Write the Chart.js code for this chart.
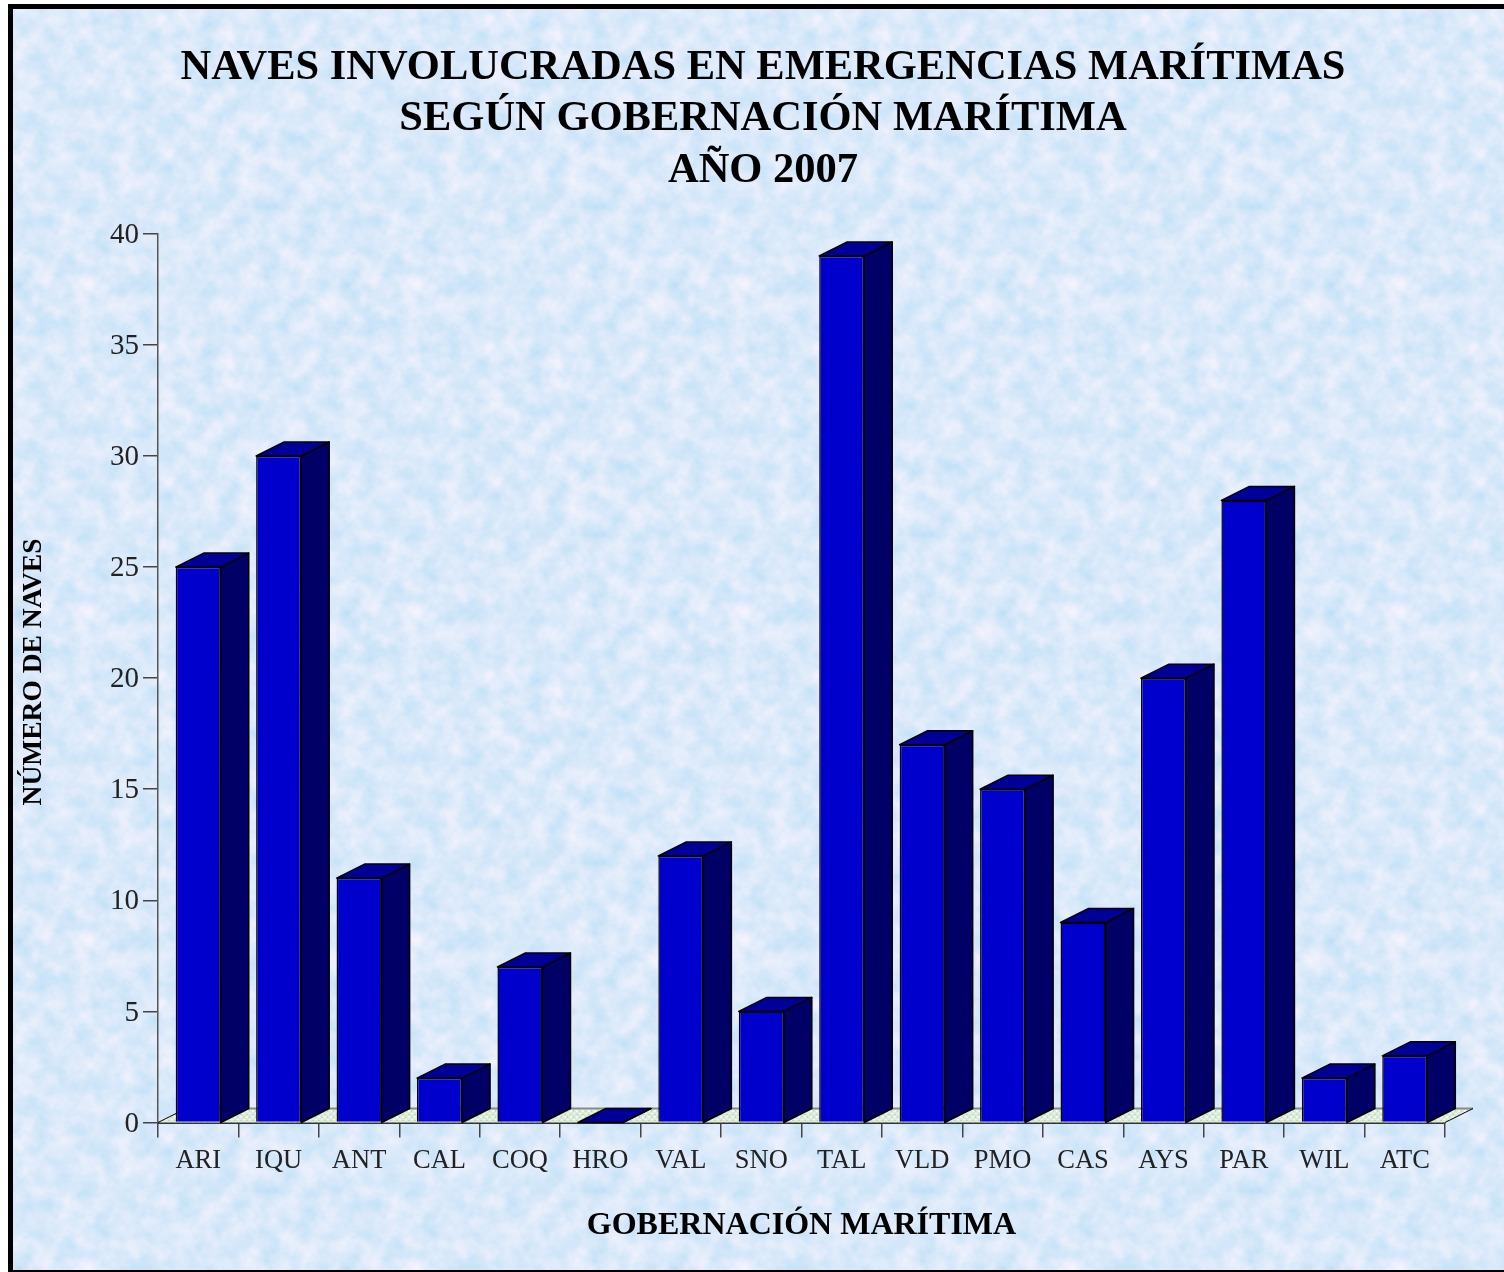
<!DOCTYPE html>
<html lang="es">
<head>
<meta charset="utf-8">
<title>Naves involucradas en emergencias marítimas</title>
<script src="https://cdn.jsdelivr.net/npm/chart.js@4"></script>
<style>
html, body { margin: 0; padding: 0; width: 1504px; height: 1272px; overflow: hidden; background: #fff; }
#marco {
    position: absolute; left: 8px; top: 4px; width: 1600px; height: 1261px;
    border: 5px solid #000;
    background-image: url("data:image/svg+xml;utf8,<svg xmlns='http://www.w3.org/2000/svg' width='328' height='328'><filter id='t' x='0' y='0' width='100%' height='100%' color-interpolation-filters='sRGB'><feTurbulence type='fractalNoise' baseFrequency='0.05' numOctaves='5' seed='7' stitchTiles='stitch'/><feColorMatrix values='0.26 0 0 0 0.725  0.09 0 0 0 0.87  0.03 0 0 0 0.965  0 0 0 0 1'/></filter><rect width='328' height='328' filter='url(%23t)'/></svg>");
}
#grafico1 { position: absolute; left: 0; top: 0; }
</style>
</head>
<body>
<div id="marco"></div>
<canvas id="grafico1" width="1504" height="1272"></canvas>
<script>
const categorias = ['ARI', 'IQU', 'ANT', 'CAL', 'COQ', 'HRO', 'VAL', 'SNO', 'TAL', 'VLD', 'PMO', 'CAS', 'AYS', 'PAR', 'WIL', 'ATC'];
const naves = [25, 30, 11, 2, 7, 0, 12, 5, 39, 17, 15, 9, 20, 28, 2, 3];
const titulo = ['NAVES INVOLUCRADAS EN EMERGENCIAS MARÍTIMAS', 'SEGÚN GOBERNACIÓN MARÍTIMA', 'AÑO 2007'];
const tituloX = 'GOBERNACIÓN MARÍTIMA';
const tituloY = 'NÚMERO DE NAVES';

const fuente = '"Liberation Serif", "DejaVu Serif", serif';
const fondoX = 28;
const fondoY = 14;

// textura moteada del piso
function texturaPiso(ctx) {
    const tile = document.createElement('canvas');
    tile.width = 6;
    tile.height = 6;
    const t = tile.getContext('2d');
    t.fillStyle = '#dcecd8';
    t.fillRect(0, 0, 6, 6);
    t.fillStyle = '#f2f8f4';
    t.fillRect(0, 0, 2, 2);
    t.fillRect(3, 3, 2, 1);
    t.fillStyle = '#bcd8c4';
    t.fillRect(3, 0, 1, 2);
    t.fillRect(0, 4, 2, 1);
    return ctx.createPattern(tile, 'repeat');
}

// caras laterales, tapas y piso del efecto 3D
const efecto3d = {
    id: 'efecto3d',
    beforeDatasetsDraw(chart) {
        const ctx = chart.ctx;
        const area = chart.chartArea;
        const cero = chart.scales.y.getPixelForValue(0);

        ctx.save();
        ctx.lineJoin = 'round';

        ctx.beginPath();
        ctx.moveTo(area.left, cero);
        ctx.lineTo(area.left + fondoX, cero - fondoY);
        ctx.lineTo(area.right + fondoX, cero - fondoY);
        ctx.lineTo(area.right, cero);
        ctx.closePath();
        ctx.fillStyle = texturaPiso(ctx);
        ctx.fill();

        ctx.strokeStyle = '#8a8a8a';
        ctx.lineWidth = 2;
        ctx.beginPath();
        ctx.moveTo(area.left + fondoX, cero - fondoY);
        ctx.lineTo(area.right + fondoX, cero - fondoY);
        ctx.stroke();

        ctx.strokeStyle = '#000000';
        ctx.lineWidth = 1;
        ctx.beginPath();
        ctx.moveTo(area.left, cero);
        ctx.lineTo(area.left + fondoX, cero - fondoY);
        ctx.moveTo(area.right, cero);
        ctx.lineTo(area.right + fondoX, cero - fondoY);
        ctx.stroke();

        ctx.lineWidth = 1.5;
        chart.getDatasetMeta(0).data.forEach(barra => {
            const izq = barra.x - barra.width / 2;
            const der = barra.x + barra.width / 2;

            ctx.fillStyle = '#000066';
            ctx.beginPath();
            ctx.moveTo(der, barra.y);
            ctx.lineTo(der + fondoX, barra.y - fondoY);
            ctx.lineTo(der + fondoX, cero - fondoY);
            ctx.lineTo(der, cero);
            ctx.closePath();
            ctx.fill();
            ctx.stroke();

            ctx.fillStyle = '#000099';
            ctx.beginPath();
            ctx.moveTo(izq, barra.y);
            ctx.lineTo(izq + fondoX, barra.y - fondoY);
            ctx.lineTo(der + fondoX, barra.y - fondoY);
            ctx.lineTo(der, barra.y);
            ctx.closePath();
            ctx.fill();
            ctx.stroke();
        });
        ctx.restore();
    },
    // el titulo del eje Y va algo mas arriba que el centro del area
    afterDraw(chart) {
        const ctx = chart.ctx;
        ctx.save();
        ctx.translate(34, 672);
        ctx.rotate(-Math.PI / 2);
        ctx.textAlign = 'center';
        ctx.textBaseline = 'middle';
        ctx.fillStyle = '#000000';
        ctx.font = 'bold 27.5px ' + fuente;
        ctx.fillText(tituloY, 0, 0);
        ctx.restore();
    }
};

new Chart(document.getElementById('grafico1'), {
    type: 'bar',
    plugins: [efecto3d],
    data: {
        labels: categorias,
        datasets: [{
            label: tituloY,
            data: naves,
            backgroundColor: '#0000cc',
            borderColor: '#000000',
            borderWidth: 1.5,
            barPercentage: 0.56,
            categoryPercentage: 1
        }]
    },
    options: {
        responsive: false,
        animation: false,
        layout: { padding: { left: 22, right: 0, top: 42, bottom: 27 } },
        plugins: {
            legend: { display: false },
            tooltip: { enabled: false },
            title: {
                display: true,
                text: titulo,
                color: '#000000',
                font: { family: fuente, size: 42.5, weight: 'bold', lineHeight: 1.21 },
                padding: { top: 0, bottom: 37.5 }
            }
        },
        scales: {
            x: {
                afterFit: escala => { escala.height = 122.5; },
                grid: { drawOnChartArea: false, tickLength: 15, color: '#444444', lineWidth: 1.5 },
                border: { color: '#333333', width: 2 },
                ticks: { color: '#222222', font: { family: fuente, size: 26.5 }, padding: 8, autoSkip: false, maxRotation: 0 },
                title: { display: true, text: tituloX, color: '#000000', font: { family: fuente, size: 32, weight: 'bold' }, padding: 0 }
            },
            y: {
                min: 0,
                max: 40,
                afterFit: escala => { escala.width = 136; },
                grid: { drawOnChartArea: false, tickLength: 15, color: '#444444', lineWidth: 1.5 },
                border: { color: '#555555', width: 1.5 },
                ticks: { stepSize: 5, color: '#222222', font: { family: fuente, size: 29 }, padding: 4, labelOffset: 1.5 }
            },
            // eje vacio solo para reservar el margen derecho sin mover el titulo
            margen: {
                position: 'right',
                afterFit: escala => { escala.width = 59; },
                grid: { display: false },
                border: { display: false },
                ticks: { display: false }
            }
        }
    }
});
</script>
</body>
</html>
